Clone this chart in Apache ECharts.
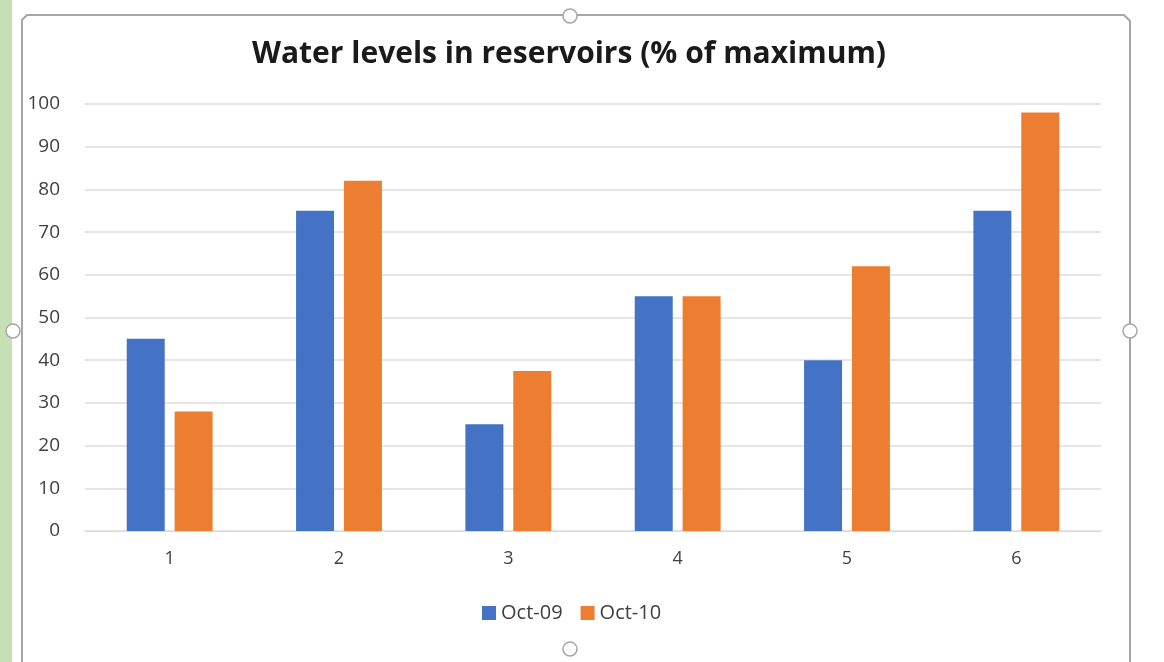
<!DOCTYPE html>
<html>
<head>
<meta charset="utf-8">
<script src="https://cdn.jsdelivr.net/npm/echarts@6/dist/echarts.min.js"></script>
<style>
html,body{margin:0;padding:0;background:#fff;}
#main{width:1164px;height:662px;}
</style>
</head>
<body>
<div id="main"></div>
<script>
const categories = ['1', '2', '3', '4', '5', '6'];
const oct09 = [45, 75, 25, 55, 40, 75];
const oct10 = [28, 82, 37.5, 55, 62, 98];
const seriesNames = ['Oct-09', 'Oct-10'];
const yTicks = { min: 0, max: 100, interval: 10 };

const chart = echarts.init(document.getElementById('main'));
const font = '"Open Sans", "Liberation Sans", sans-serif';
chart.setOption({
  animation: false,
  backgroundColor: '#ffffff',
  title: {
    text: 'Water levels in reservoirs (% of maximum)',
    left: 564, top: 34, textAlign: 'center',
    textStyle: { fontFamily: font, fontSize: 30, fontWeight: 'bold', color: '#1a1a1a' }
  },
  legend: {
    data: seriesNames,
    left: 482, top: 603, padding: 0,
    itemWidth: 14, itemHeight: 14, itemGap: 18,
    icon: 'rect',
    textStyle: { fontFamily: font, fontSize: 20, color: '#404040' }
  },
  grid: { left: 85, right: 63, top: 104, bottom: 131, containLabel: false },
  xAxis: {
    type: 'category', data: categories,
    axisLine: { show: true, lineStyle: { color: '#d9d9d9' } },
    axisTick: { show: false },
    axisLabel: { fontFamily: font, fontSize: 18, color: '#404040', margin: 19 }
  },
  yAxis: {
    type: 'value', min: yTicks.min, max: yTicks.max, interval: yTicks.interval,
    axisLine: { show: false }, axisTick: { show: false },
    splitLine: { lineStyle: { color: '#dcdcdc', width: 1.5 } },
    axisLabel: { fontFamily: font, fontSize: 19, color: '#404040', margin: 25 }
  },
  series: [
    { name: seriesNames[0], type: 'bar', data: oct09, barWidth: 38, barGap: '26%', itemStyle: { color: '#4472C4' } },
    { name: seriesNames[1], type: 'bar', data: oct10, barWidth: 38, barGap: '26%', itemStyle: { color: '#ED7D31' } }
  ],
  graphic: [
    { type: 'rect', shape: { x: 0, y: 0, width: 12, height: 662 }, style: { fill: '#c5e0b4' }, silent: true },
    { type: 'polyline', shape: { points: [[22, 662], [22, 20], [27, 15], [1124, 15], [1130, 21], [1130, 662]] }, style: { stroke: '#a6a6a6', lineWidth: 2, fill: null }, silent: true },
    { type: 'circle', shape: { cx: 570, cy: 16, r: 7 }, style: { fill: '#ffffff', stroke: '#a6a6a6', lineWidth: 1.5 }, silent: true },
    { type: 'circle', shape: { cx: 13, cy: 331, r: 7 }, style: { fill: '#ffffff', stroke: '#a6a6a6', lineWidth: 1.5 }, silent: true },
    { type: 'circle', shape: { cx: 1130, cy: 331, r: 7 }, style: { fill: '#ffffff', stroke: '#a6a6a6', lineWidth: 1.5 }, silent: true },
    { type: 'circle', shape: { cx: 570, cy: 649, r: 7 }, style: { fill: '#ffffff', stroke: '#a6a6a6', lineWidth: 1.5 }, silent: true }
  ]
});
</script>
</body>
</html>
